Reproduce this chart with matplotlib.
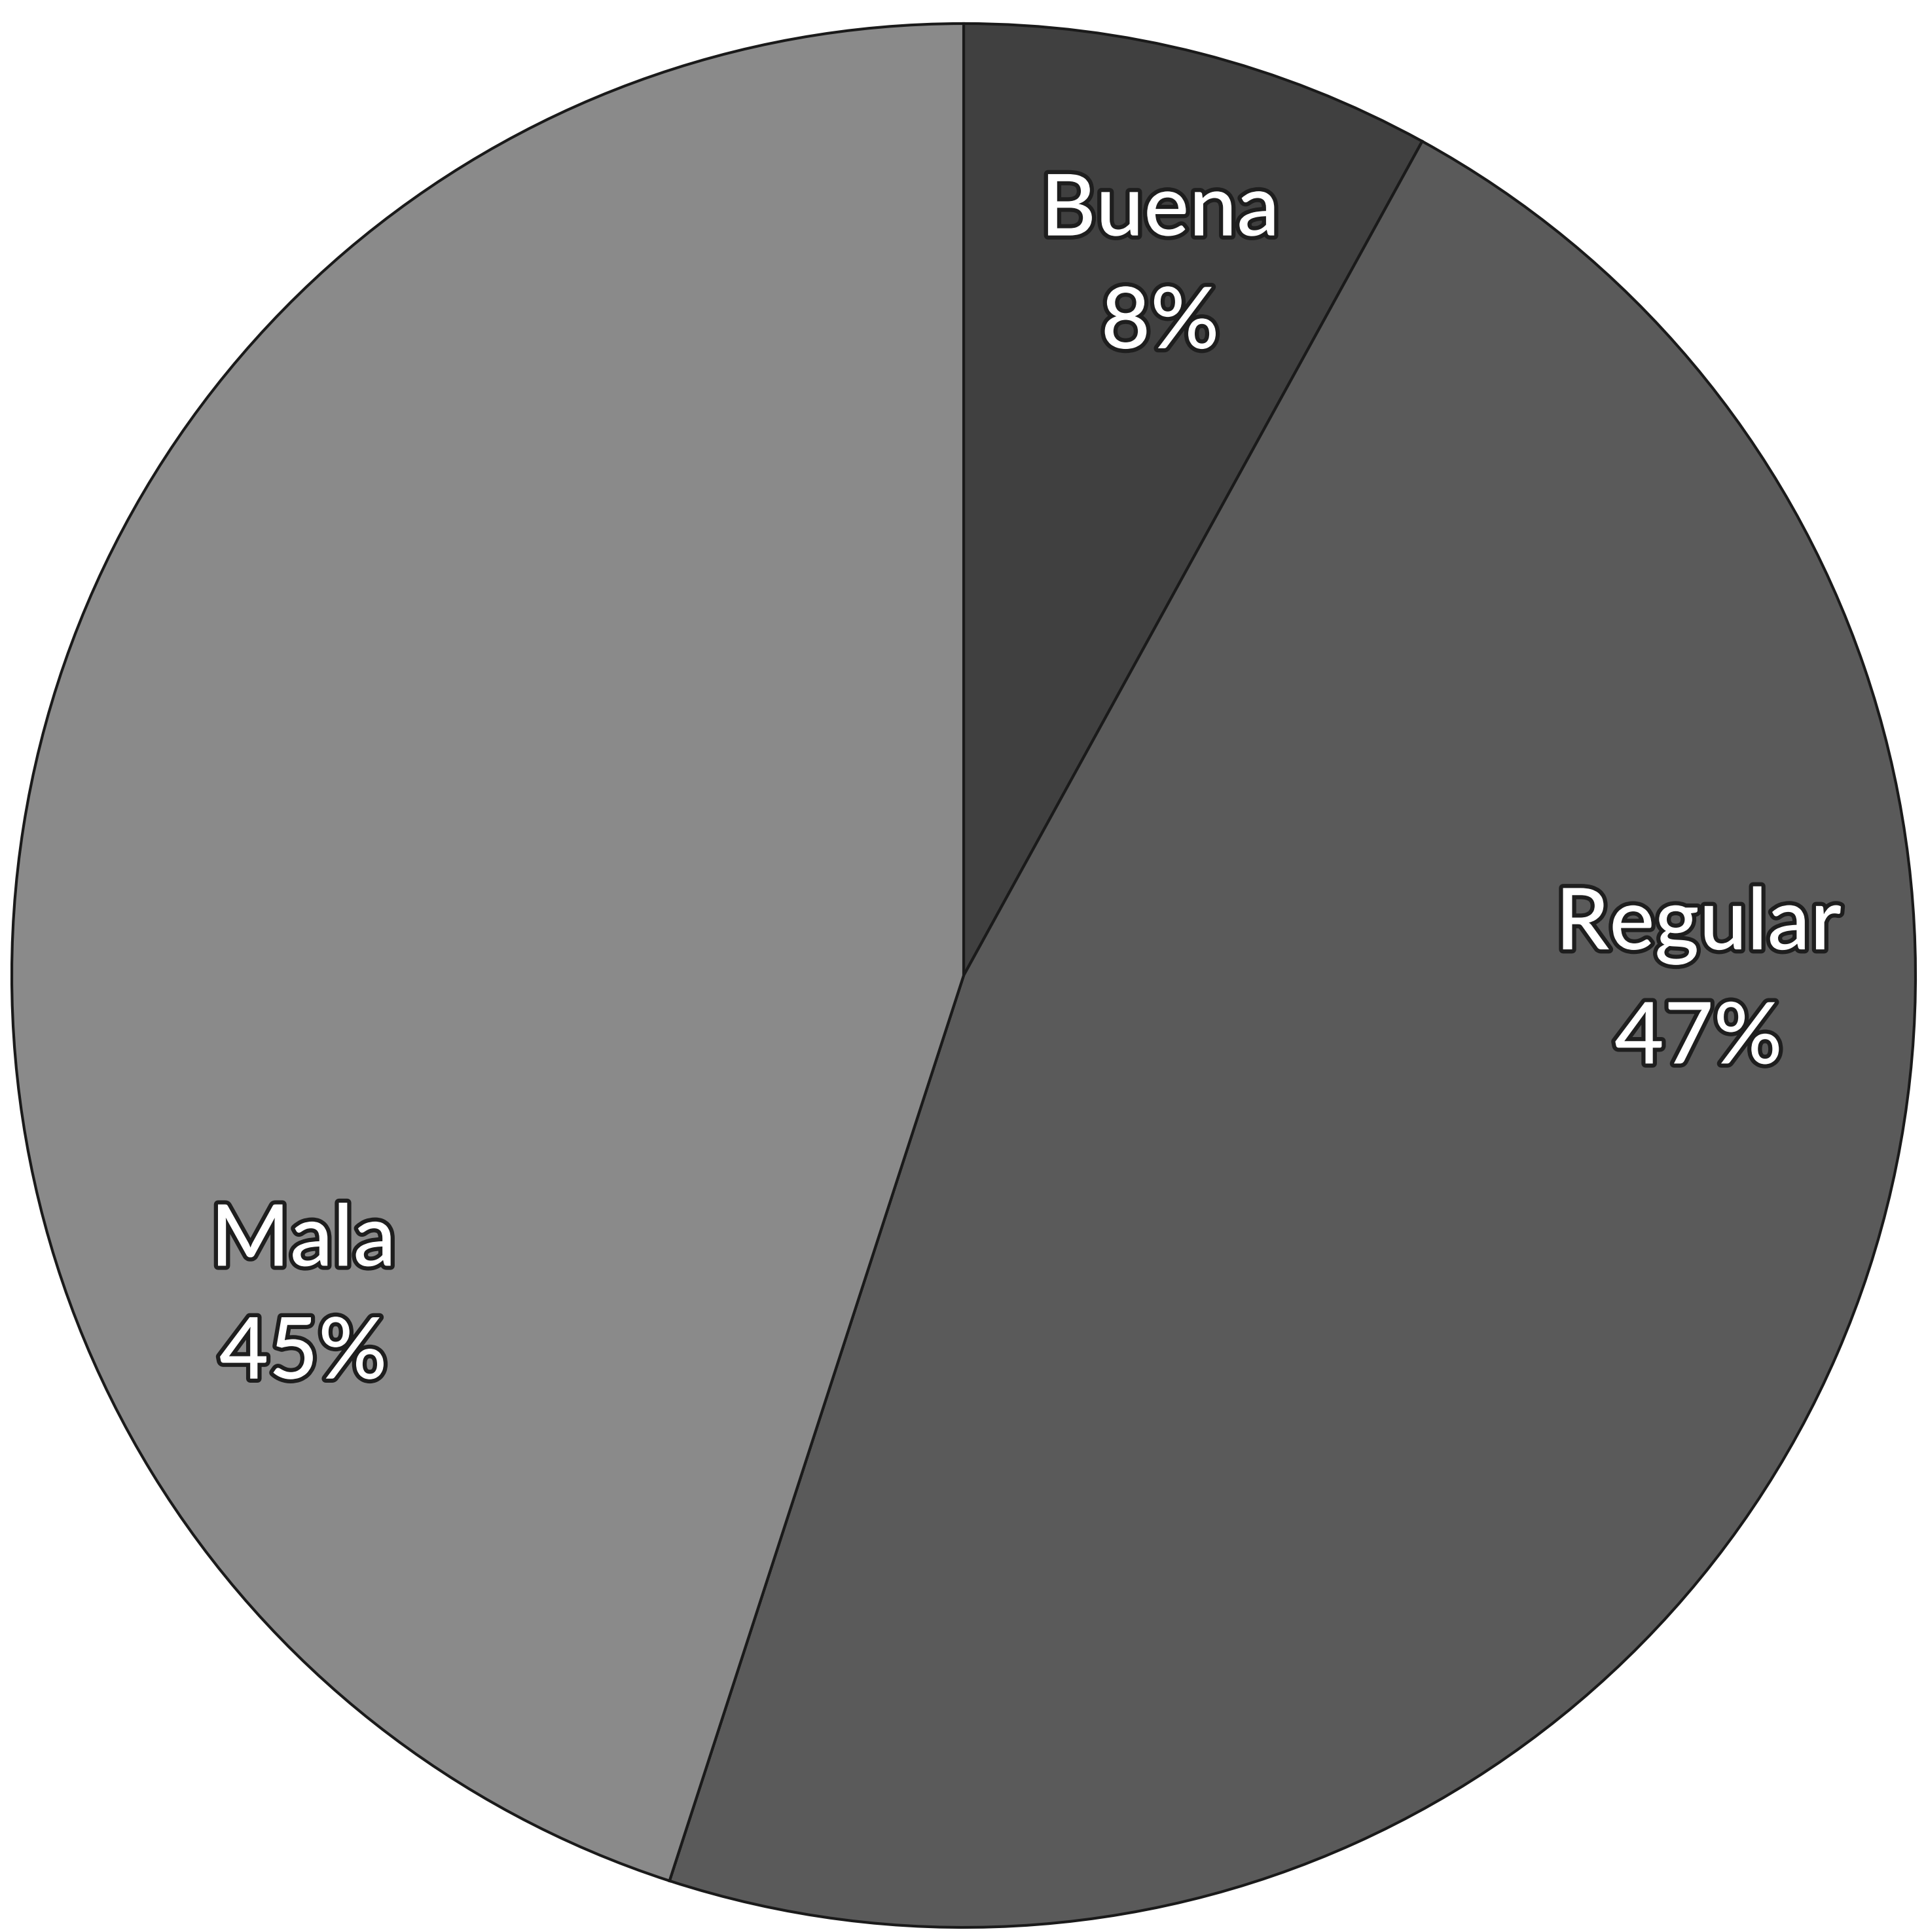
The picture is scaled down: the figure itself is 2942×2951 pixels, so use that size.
import numpy as np
import matplotlib.pyplot as plt
import matplotlib.patheffects as pe

# Data
categories = ["Buena", "Regular", "Mala"]
shares = [8, 47, 45]
colors = ["#404040", "#5a5a5a", "#8a8a8a"]
# where each label sits (degrees clockwise from 12 o'clock)
label_angles = [15.5, 90.5, 244]

W, H = 2942, 2951
fig = plt.figure(figsize=(W / 100, H / 100), dpi=100)
ax = fig.add_axes([0, 0, 1, 1])

cx, cy, R = 1472, H - 1490, 1454
wedges, texts = ax.pie(shares, labels=categories, colors=colors, startangle=90,
                       counterclock=False, center=(cx, cy), radius=R,
                       wedgeprops=dict(edgecolor="#1a1a1a", linewidth=3),
                       labeldistance=0.78)

for t, name, val, ang in zip(texts, categories, shares, label_angles):
  a = np.deg2rad(90 - ang)
  r = 0.772 * R
  t.set_position((cx + r * np.cos(a), cy + r * np.sin(a)))
  t.set_text(f"{name}\n{val}%")
  t.set_ha("center")
  t.set_va("center")
  t.set_multialignment("center")
  t.set_fontsize(94)
  t.set_family("Lato")
  t.set_weight("medium")
  t.set_color("white")
  t.set_linespacing(1.55)
  t.set_path_effects([pe.withStroke(linewidth=9, foreground="#1e1e1e")])

ax.set_xlim(0, W)
ax.set_ylim(0, H)
ax.set_aspect("equal")
ax.axis("off")

fig.savefig("out.png", dpi=100, facecolor="white")
